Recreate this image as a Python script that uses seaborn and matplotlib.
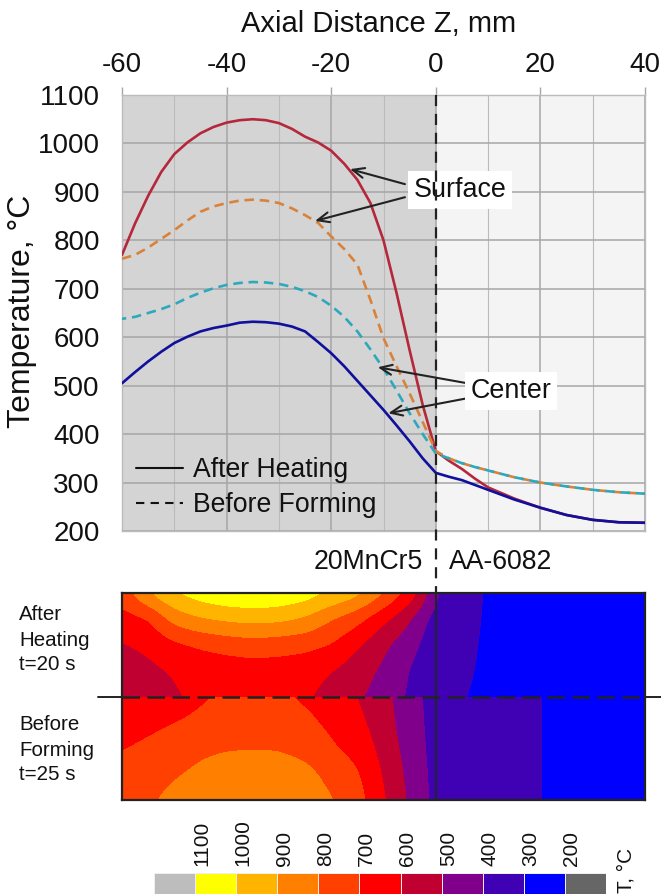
import numpy as np
import pandas as pd
import matplotlib
matplotlib.use('Agg')
import matplotlib.pyplot as plt
import seaborn as sns
from matplotlib.colors import ListedColormap
from matplotlib.lines import Line2D

W, H = 661, 894

z = [-60, -57.5, -55, -52.5, -50, -47.5, -45, -42.5, -40, -37.5, -35, -32.5, -30, -27.5, -25, -22.5, -20, -17.5, -15,
     -12.5, -10, -7.5, -5, -2.5, 0, 2.5, 5, 7.5, 10, 15, 20, 25, 30, 35, 40]
surface_heating = [770, 835, 892, 941, 978, 1002, 1021, 1034, 1043, 1048, 1050, 1048, 1042, 1030, 1014, 1002, 985, 958, 925,
                   877, 800, 691, 573, 460, 365, 345, 328, 308, 290, 267, 248, 233, 223, 218, 217]
surface_forming = [762, 770, 785, 803, 821, 841, 859, 870, 877, 882, 884, 882, 877, 866, 852, 836, 808, 782, 750,
                   677, 598, 540, 484, 425, 365, 350, 340, 332, 325, 311, 300, 292, 285, 280, 277]
center_forming = [638, 642, 650, 658, 668, 681, 692, 701, 708, 712, 714, 713, 710, 704, 695, 683, 665, 642, 612,
                  575, 535, 490, 443, 400, 360, 350, 340, 332, 325, 311, 300, 292, 285, 280, 277]
center_heating = [505, 528, 550, 570, 588, 601, 612, 619, 624, 630, 632, 631, 628, 622, 612, 590, 567, 540, 510,
                  480, 450, 418, 385, 350, 320, 312, 305, 295, 285, 265, 248, 233, 223, 218, 217]

map_x = [-60, -55, -50, -45, -40, -35, -30, -25, -20, -15, -10, -5, -2.5, 0, 5, 10, 20, 30, 40]
map_r = [0, 0.25, 0.5, 0.75, 1]
# one row per radius, center -> surface
map_heating = [
    [505, 550, 590, 615, 626, 632, 628, 612, 565, 510, 458, 385, 350, 320, 303, 285, 247, 221, 217],
    [555, 575, 608, 635, 642, 650, 648, 640, 600, 545, 480, 395, 365, 330, 312, 286, 248, 222, 217],
    [590, 620, 675, 710, 735, 750, 740, 725, 695, 610, 520, 430, 385, 340, 320, 287, 248, 222, 217],
    [660, 690, 835, 890, 915, 930, 920, 885, 800, 730, 620, 510, 420, 360, 330, 288, 248, 222, 217],
    [740, 900, 1000, 1050, 1085, 1095, 1085, 1050, 990, 930, 805, 660, 560, 400, 340, 289, 248, 223, 217],
]
map_forming = [
    [638, 650, 668, 690, 710, 714, 710, 688, 665, 597, 535, 430, 400, 360, 342, 326, 300, 285, 277],
    [665, 680, 697, 715, 735, 745, 740, 718, 680, 625, 545, 440, 405, 360, 342, 326, 300, 285, 277],
    [695, 715, 740, 780, 795, 797, 795, 770, 712, 665, 565, 455, 410, 362, 342, 326, 300, 285, 277],
    [730, 750, 790, 822, 840, 848, 845, 830, 770, 712, 590, 470, 420, 364, 342, 326, 300, 285, 277],
    [762, 785, 830, 860, 877, 884, 877, 852, 808, 740, 610, 482, 430, 365, 342, 326, 300, 285, 277],
]
levels = [0, 200, 300, 400, 500, 600, 700, 800, 900, 1000, 1100, 1300]
level_colors = ['#666666', '#0000ff', '#4000b4', '#80008c', '#c00030', '#ff0000',
                '#ff4000', '#ff8000', '#ffb400', '#ffff00', '#bdbdbd']
bar_labels = ['1100', '1000', '900', '800', '700', '600', '500', '400', '300', '200']

sns.set_theme(style='white')
plt.rcParams['font.family'] = ['Liberation Sans', 'DejaVu Sans']
plt.rcParams['text.color'] = '#111111'
plt.rcParams['axes.unicode_minus'] = False


def px_axes(fig, x0, y0, x1, y1):
    return fig.add_axes([x0 / W, 1 - y1 / H, (x1 - x0) / W, (y1 - y0) / H])


def fig_text(fig, x, y, s, **kw):
    fig.text(x / W, 1 - y / H, s, **kw)


def fig_line(fig, xs, ys, **kw):
    fig.add_artist(Line2D([v / W for v in xs], [1 - v / H for v in ys], **kw))


def blur(a, n, axis):
    # box blur, run twice, so the band corners round off
    k = np.ones(n) / n
    pad = n
    def one(v):
        v = np.concatenate([np.full(pad, v[0]), v, np.full(pad, v[-1])])
        v = np.convolve(np.convolve(v, k, 'same'), k, 'same')
        return v[pad:-pad]
    return np.apply_along_axis(one, axis, a)


def smooth_contour(ax, table):
    xf = np.linspace(-60, 40, 401)
    rf = np.linspace(0, 1, 101)
    t = np.array(table, dtype=float)
    t = np.array([np.interp(xf, map_x, row) for row in t])
    t = np.array([np.interp(rf, map_r, t[:, j]) for j in range(t.shape[1])]).T
    t = blur(blur(t, 13, 0), 11, 1)
    ax.contourf(xf, rf, t, levels=levels, colors=level_colors)


fig = plt.figure(figsize=(W / 100, H / 100), dpi=100)

# temperature curves
ax = px_axes(fig, 122, 95, 645, 531)
ax.axvspan(-60, 0, color='#d4d4d4', lw=0, zorder=0)
ax.axvspan(0, 40, color='#f4f4f4', lw=0, zorder=0)
df = pd.DataFrame({'z': z, 'sh': surface_heating, 'sf': surface_forming, 'cf': center_forming, 'ch': center_heating})
df = df.melt(id_vars='z', var_name='series', value_name='T')
sns.lineplot(data=df, x='z', y='T', hue='series', style='series', ax=ax, legend=False,
             hue_order=['sh', 'sf', 'cf', 'ch'], style_order=['sh', 'sf', 'cf', 'ch'],
             palette={'sh': '#b5283c', 'sf': '#d9823b', 'cf': '#2ea8bc', 'ch': '#10109c'},
             dashes={'sh': '', 'sf': (3.6, 2.2), 'cf': (3.6, 2.2), 'ch': ''}, lw=1.9, zorder=3)
ax.lines[2].set_linestyle((2.0, (3.6, 2.2)))
ax.set_xlim(-60, 40)
ax.set_ylim(200, 1100)
ax.xaxis.tick_top()
ax.set_xticks(range(-60, 41, 20))
ax.set_xticks(range(-50, 40, 20), minor=True)
ax.set_yticks(range(200, 1101, 100))
ax.grid(True, which='major', color='#a6a6a6', lw=1.1, zorder=1)
ax.grid(True, which='minor', axis='x', color='#bbbbbb', lw=0.8, zorder=1)
ax.set_axisbelow(True)
ax.tick_params(axis='both', which='major', length=6, width=1, color='#a6a6a6', labelsize=20, labelcolor='#111111')
ax.tick_params(axis='y', which='major', pad=10)
ax.tick_params(axis='x', which='major', pad=6)
ax.tick_params(axis='x', which='minor', length=0)
ax.set_xlabel('Axial Distance Z, mm', fontsize=21, color='#111111', va='center')
ax.set_ylabel('Temperature, °C', fontsize=23, color='#111111', va='center')
ax.xaxis.set_label_coords((379 - 122) / 523, (531 - 24) / 436)
ax.yaxis.set_label_coords((22 - 122) / 523, (531 - 311) / 436)
for s in ax.spines.values():
    s.set_color('#bbbbbb')
    s.set_linewidth(1)

arrow = dict(arrowstyle='->,head_length=0.7,head_width=0.3', color='#222222', lw=1.5, shrinkA=0, shrinkB=0)
for tgt, src in [((-16.4, 947), (-5.9, 916)), ((-23.1, 840), (-5.9, 889)),
                 ((-11.1, 538), (6, 505)), ((-9.1, 443), (6, 474))]:
    ax.annotate('', xy=tgt, xytext=src, arrowprops=arrow, zorder=5)
box = dict(fc='white', ec='none', pad=4)
ax.text(-4.2, 904, 'Surface', fontsize=19.4, va='center', ha='left', bbox=box, zorder=6)
ax.text(6.7, 489, 'Center', fontsize=19.4, va='center', ha='left', bbox=box, zorder=6)
handles = [Line2D([], [], color='#111111', lw=1.5), Line2D([], [], color='#111111', lw=1.5, ls=(0, (4, 3)))]
ax.legend(handles, ['After Heating', 'Before Forming'], loc='lower left', frameon=False, fontsize=19.2,
          handlelength=1.76, handletextpad=0.4, labelspacing=0.33, borderaxespad=0, bbox_to_anchor=(0.006, 0.005))

# contour maps
ax1 = px_axes(fig, 122, 593, 645, 697)
smooth_contour(ax1, map_heating)
ax2 = px_axes(fig, 122, 697, 645, 800)
smooth_contour(ax2, map_forming)
ax2.invert_yaxis()
for a in (ax1, ax2):
    a.set_xticks([])
    a.set_yticks([])
    for s in a.spines.values():
        s.set_color('#222222')
        s.set_linewidth(1.6)
ax1.spines['bottom'].set_visible(False)
ax2.spines['top'].set_visible(False)

# colour bar
cax = px_axes(fig, 154, 873, 606, 894)
sns.heatmap([list(range(11))], ax=cax, cmap=ListedColormap(level_colors[::-1]), cbar=False, xticklabels=False,
            yticklabels=False, linewidths=0.6, linecolor='#eeeeee')
for i, lab in enumerate(bar_labels):
    fig_text(fig, 194 + i * 41.1 + 8, 866, lab, rotation=90, fontsize=15, ha='center', va='bottom')
fig_text(fig, 626, 893, 'T, °C', rotation=90, fontsize=15, ha='center', va='bottom')

# divider lines
fig_line(fig, [436, 436], [95, 590], color='#222222', lw=1.6, ls=(0, (5, 3.5)), zorder=10)
fig_line(fig, [436, 436], [590, 800], color='#222233', lw=1.6, zorder=10)
fig_line(fig, [98, 122], [697, 697], color='#222222', lw=1.4, zorder=10)
fig_line(fig, [645, 661], [697, 697], color='#222222', lw=1.4, zorder=10)
fig_line(fig, [122, 645], [697, 697], color='#222222', lw=1.8, ls=(0, (7, 3)), zorder=10)

fig_text(fig, 423, 562, '20MnCr5', fontsize=19.2, ha='right', va='center')
fig_text(fig, 449, 562, 'AA-6082', fontsize=19.2, ha='left', va='center')
for y, s in [(614, 'After'), (640, 'Heating'), (665, 't=20 s'), (724, 'Before'), (750, 'Forming'), (775, 't=25 s')]:
    fig_text(fig, 19, y, s, fontsize=14.8, ha='left', va='center')

fig.savefig('out.png', dpi=100)
